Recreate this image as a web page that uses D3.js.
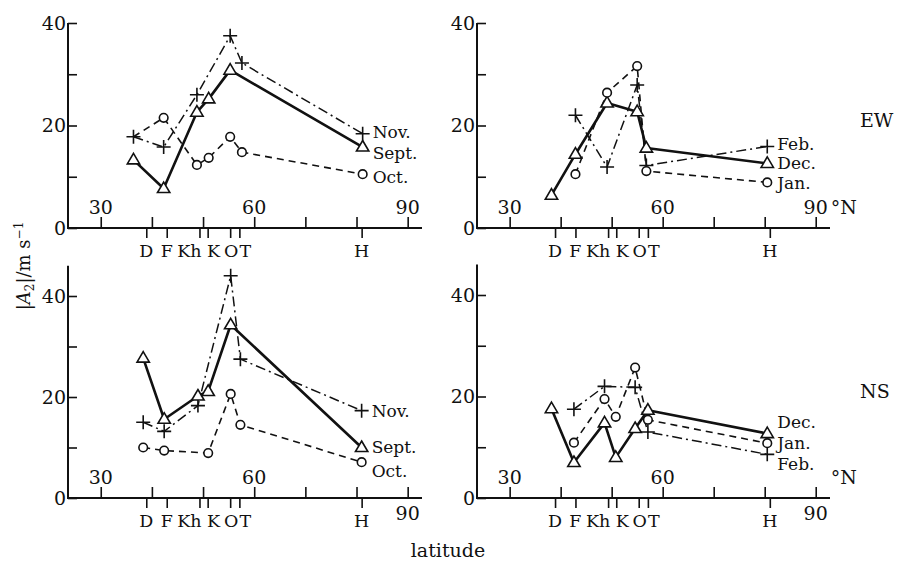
<!DOCTYPE html>
<html><head><meta charset="utf-8">
<script src="https://cdn.jsdelivr.net/npm/d3@7"></script>
<style>
html,body{margin:0;padding:0;background:#fff;}
svg{display:block;}
text{font-family:"DejaVu Serif",serif;fill:#111;}
</style></head>
<body>
<svg id="chart" width="901" height="563"></svg>
<script>
// ---------------- data ----------------
const stations = ["D", "F", "Kh", "K", "O", "T", "H"];
const stationLat = [38.9, 42.9, 49.3, 50.9, 55.3, 57.1, 81.0];
// latitude at which the points of each panel are plotted
const latTL = [36.4, 42.3, 48.8, 51.1, 55.3, 57.6, 81.2];
const latTR = [38.2, 42.9, 49.1, 51.0, 55.0, 56.8, 80.5];
const latBL = [38.3, 42.4, 49.0, 51.0, 55.4, 57.3, 81.0];
const latBR = [38.2, 42.6, 48.6, 50.8, 54.6, 57.1, 80.5];

const yTicks = [0, 10, 20, 30, 40];
const yTickLabels = [0, 20, 40];
const xTicks = [30, 40, 50, 60, 70, 80, 90];
const xTickLabels = [30, 60, 90];

// EW, autumn
const ewSept = [13.3, 7.7, 22.6, 25.2, 30.8, null, 15.8];
const ewOct  = [17.8, 21.5, 12.3, 13.7, 17.8, 14.8, 10.5];
const ewNov  = [17.8, 15.8, 26.0, null, 37.5, 32.2, 18.4];
// EW, winter
const ewDec = [6.4, 14.4, 24.4, null, 22.7, 15.6, 12.6];
const ewJan = [null, 10.5, 26.4, null, 31.6, 11.1, 8.9];
const ewFeb = [null, 22.0, 11.9, null, 27.9, 12.2, 15.9];
// NS, autumn
const nsSept = [27.7, 15.6, 20.2, 21.1, 34.3, null, 10.0];
const nsOct  = [10.0, 9.4, null, 8.9, 20.6, 14.5, 7.1];
const nsNov  = [15.0, 13.2, 18.3, null, 44.0, 27.5, 17.3];
// NS, winter
const nsDec = [17.6, 7.0, 14.8, 8.0, 13.7, 17.3, 12.7];
const nsJan = [null, 10.9, 19.5, 16.0, 25.7, 15.4, 10.8];
const nsFeb = [null, 17.5, 22.0, null, 21.8, 13.0, 8.6];

// ---------------- drawing ----------------
const svg = d3.select("#chart");
const STYLE = {
  solid: {w: 2.6, dash: null, marker: "tri"},
  dashed: {w: 1.6, dash: "7,5", marker: "circ"},
  dashdot: {w: 1.5, dash: "10,4,2,4", marker: "plus"}
};

const panels = [
  {x0: 68, x1: 422, y0: 228, y40: 23, yTop: 40, lat: latTL,
   series: [{n: "Nov.", v: ewNov, s: "dashdot", dy: -1},
            {n: "Sept.", v: ewSept, s: "solid", dy: 6},
            {n: "Oct.", v: ewOct, s: "dashed", dy: 3, skip: ["D"]}],
   ninetyBelow: false, degN: false, tag: null},
  {x0: 477, x1: 830, y0: 228, y40: 23, yTop: 40, lat: latTR,
   series: [{n: "Feb.", v: ewFeb, s: "dashdot", dy: -2},
            {n: "Dec.", v: ewDec, s: "solid", dy: 0},
            {n: "Jan.", v: ewJan, s: "dashed", dy: 1}],
   ninetyBelow: false, degN: true, tag: "EW"},
  {x0: 68, x1: 422, y0: 498, y40: 296, yTop: 46, lat: latBL,
   series: [{n: "Nov.", v: nsNov, s: "dashdot", dy: 1},
            {n: "Sept.", v: nsSept, s: "solid", dy: 0},
            {n: "Oct.", v: nsOct, s: "dashed", dy: 9}],
   ninetyBelow: true, degN: false, tag: null},
  {x0: 477, x1: 830, y0: 498, y40: 295, yTop: 46, lat: latBR,
   series: [{n: "Dec.", v: nsDec, s: "solid", dy: -11},
            {n: "Jan.", v: nsJan, s: "dashed", dy: 0},
            {n: "Feb.", v: nsFeb, s: "dashdot", dy: 10}],
   ninetyBelow: true, degN: true, tag: "NS"}
];

panels.forEach(p => {
  const g = svg.append("g");
  const x = d3.scaleLinear().domain([23.6, 92.8]).range([p.x0, p.x1]);
  const y = d3.scaleLinear().domain([0, 40]).range([p.y0, p.y40]);

  // axes lines
  g.append("line").attr("x1", x(23.6)).attr("x2", x(92.8))
    .attr("y1", y(0)).attr("y2", y(0)).attr("stroke", "#111").attr("stroke-width", 2);
  g.append("line").attr("x1", p.x0).attr("x2", p.x0)
    .attr("y1", y(0) + 1).attr("y2", y(p.yTop)).attr("stroke", "#111").attr("stroke-width", 2);

  // y ticks
  const ya = g.append("g").attr("transform", `translate(${p.x0},0)`)
    .call(d3.axisRight(y).tickValues(yTicks).tickSize(9).tickFormat(""));
  ya.select(".domain").remove();
  ya.selectAll("line").attr("stroke", "#111").attr("stroke-width", 1.6);
  g.selectAll(".ylab").data(yTickLabels).join("text")
    .attr("x", p.x0 - 2).attr("y", d => y(d)).attr("dy", "0.36em")
    .attr("text-anchor", "end").attr("font-size", 19).text(d => d);

  // x decade ticks (upwards)
  const xa = g.append("g").attr("transform", `translate(0,${y(0)})`)
    .call(d3.axisTop(x).tickValues(xTicks).tickSize(11).tickFormat(""));
  xa.select(".domain").remove();
  xa.selectAll("line").attr("stroke", "#111").attr("stroke-width", 1.6);
  g.selectAll(".xlab").data(xTickLabels).join("text")
    .attr("x", d => x(d))
    .attr("y", d => (d === 90 && p.ninetyBelow) ? y(0) + 22 : y(0) - 14)
    .attr("text-anchor", "middle").attr("font-size", 19).text(d => d);
  if (p.degN) {
    g.append("text").attr("x", x(90) + 15).attr("y", y(0) - 14)
      .attr("font-size", 19).text("°N");
  }

  // station ticks (downwards)
  const sa = g.append("g").attr("transform", `translate(0,${y(0)})`)
    .call(d3.axisBottom(x).tickValues(stationLat).tickSize(10).tickFormat(""));
  sa.select(".domain").remove();
  sa.selectAll("line").attr("stroke", "#111").attr("stroke-width", 1.6);
  const sdx = [0, 0, -10, 6, 1, 6, 0];
  g.selectAll(".slab").data(stations).join("text")
    .attr("x", (d, i) => x(stationLat[i]) + sdx[i]).attr("y", y(0) + 29)
    .attr("text-anchor", "middle").attr("font-size", 17.5).text(d => d);

  // series
  const line = d3.line().defined(d => d.v != null).x(d => x(d.lat)).y(d => y(d.v));
  p.series.forEach(s => {
    const st = STYLE[s.s];
    const pts = stations.map((k, i) => ({k: k, lat: p.lat[i], v: s.v[i]}));
    const valid = pts.filter(d => d.v != null);
    g.append("path").datum(valid).attr("d", line)
      .attr("fill", "none").attr("stroke", "#111").attr("stroke-width", st.w)
      .attr("stroke-dasharray", st.dash).attr("stroke-linejoin", "round");
    s._valid = valid; s._st = st;
  });
  p.series.forEach(s => {
    const st = s._st;
    s._valid.filter(d => !(s.skip || []).includes(d.k)).forEach(d => {
      const cx = x(d.lat), cy = y(d.v);
      if (st.marker === "tri") {
        const r = 6.5;
        g.append("path").attr("d", `M${cx},${cy - r}L${cx + r * 0.95},${cy + r * 0.62}L${cx - r * 0.95},${cy + r * 0.62}Z`)
          .attr("fill", "#fff").attr("stroke", "#111").attr("stroke-width", 1.6);
      } else if (st.marker === "circ") {
        g.append("circle").attr("cx", cx).attr("cy", cy).attr("r", 4.3)
          .attr("fill", "#fff").attr("stroke", "#111").attr("stroke-width", 1.6);
      } else {
        g.append("path").attr("d", `M${cx - 7},${cy}H${cx + 7}M${cx},${cy - 7}V${cy + 7}`)
          .attr("stroke", "#111").attr("stroke-width", 1.6);
      }
    });
    const last = s._valid[s._valid.length - 1];
    g.append("text").attr("x", x(last.lat) + 10).attr("y", y(last.v) + s.dy)
      .attr("dy", "0.34em").attr("font-size", 17).text(s.n);
  });

  if (p.tag) {
    g.append("text").attr("x", 860).attr("y", y(20) - 5).attr("dy", "0.36em")
      .attr("font-size", 19).text(p.tag);
  }
});

// axis titles
svg.append("text").attr("x", 448).attr("y", 557).attr("text-anchor", "middle")
  .attr("font-size", 19).text("latitude");
const yt = svg.append("text").attr("transform", "translate(30,266) rotate(-90)")
  .attr("text-anchor", "middle").attr("font-size", 18);
yt.append("tspan").text("|");
yt.append("tspan").attr("font-style", "italic").text("A");
yt.append("tspan").attr("font-size", 12).attr("dy", 4).text("2");
yt.append("tspan").attr("dy", -4).text("|/m s");
yt.append("tspan").attr("font-size", 12).attr("dy", -7).text("−1");
</script>
</body></html>
